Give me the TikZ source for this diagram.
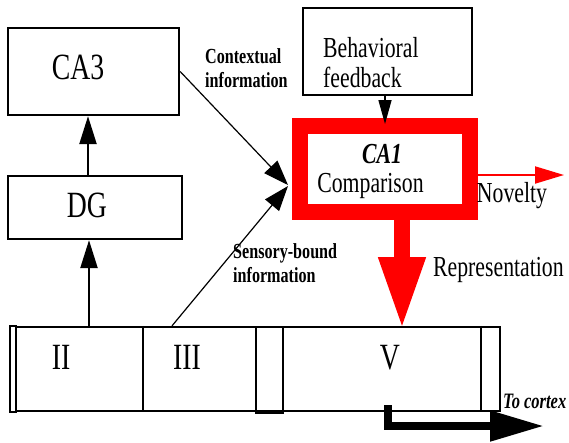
\documentclass[tikz,border=0pt]{standalone}
\usepackage{fontspec}
\setmainfont{Liberation Serif}[FakeStretch=0.75]
\usetikzlibrary{arrows.meta}
\newcommand\myfs[1]{\fontsize{#1}{#1}\selectfont}
\begin{document}
\begin{tikzpicture}[x=1pt,y=-1pt,
  box/.style={draw,line width=2.3pt,rectangle,inner sep=0pt},
  txt/.style={inner sep=0pt,anchor=base},
  big/.style={txt,font=\myfs{37}},
  mid/.style={txt,font=\myfs{29}},
  lbl/.style={inner sep=0pt,anchor=base west,align=left,font=\fontsize{21.5}{23.5}\selectfont\bfseries},
  thinarrow/.style={line width=1.2pt,-{Triangle[length=25pt,width=18pt]}},
  vertarrow/.style={line width=2.3pt,-{Triangle[length=28pt,width=17pt]}},
  redbig/.style={draw=red,line width=16pt,-{Triangle[length=73pt,width=43pt]}},
]
\useasboundingbox (0,0) rectangle (569,442);

% boxes
\node[box,minimum width=171,minimum height=87] (ca3) at (93.5,71.5) {};
\node[big] (ca3t) at (78,79) {CA3};
\node[box,minimum width=174,minimum height=63] (dg) at (95,207.5) {};
\node[big] (dgt) at (87,217) {DG};
\node[box,minimum width=169,minimum height=87] (bf) at (387.5,51.5) {};
\node[txt,anchor=base west,align=left,font=\fontsize{29}{30}\selectfont] (bft) at (323,87) {Behavioral\\feedback};
\node[draw=red,line width=16pt,minimum width=170,minimum height=86,inner sep=0pt] (ca1) at (385,169) {};
\node[txt,font=\myfs{29}\bfseries\itshape] (ca1t) at (382,163) {CA1};
\node[mid] (cmp) at (370.5,192) {Comparison};

% layer bar
\node[box,minimum width=484,minimum height=84] (bar) at (258,369) {};
\node[box,minimum width=6,minimum height=86] (edge) at (13,369) {};
\coordinate (d1) at (143,0);
\coordinate (d2) at (481,0);
\draw[line width=2.3pt] (bar.north -| d1) -- (bar.south -| d1);
\draw[line width=2.3pt] (bar.north -| d2) -- (bar.south -| d2);
\node[box,minimum width=27,minimum height=86] (gap) at (269.5,370) {};
\node[big] (l2) at (61,369) {II};
\node[big] (l3) at (187,369) {III};
\node[big] (l5) at (390,369) {V};

% labels
\node[lbl] (ctx) at (205,87) {Contextual\\information};
\node[lbl] (sns) at (233,282) {Sensory-bound\\information};
\node[txt,font=\myfs{29}] (nov) at (512,202) {Novelty};
\node[txt,anchor=base west,font=\myfs{29}] (rep) at (433,276) {Representation};
\node[txt,anchor=base west,font=\myfs{22}\bfseries\itshape] (toc) at (503,408) {To cortex};

% connectors
\coordinate (x88) at (88,0);
\coordinate (x89) at (89,0);
\coordinate (x385) at (385,0);
\coordinate (ctip) at (288,185);
\coordinate (stip) at (288,186);
\coordinate (sstart) at (172,0);
\coordinate (bftip) at (385,124);
\coordinate (novtip) at (564,175);
\coordinate (reptip) at (402,330);
\coordinate (x402) at (402,0);
\coordinate (cstart) at (388,405);
\coordinate (ccorner) at (388,426);
\coordinate (ctip2) at (544,426);

\draw[vertarrow] (dg.north -| x88) -- (ca3.south -| x88);
\draw[vertarrow] (bar.north -| x89) -- (dg.south -| x89);
\draw[thinarrow] (ca3.east) -- (ctip);
\draw[thinarrow] (bar.north -| sstart) -- (stip);
\draw[line width=1.5pt,-{Triangle[length=24pt,width=13pt]}] (bf.south -| x385) -- (bftip);
\draw[red,line width=2pt,-{Triangle[length=29pt,width=17pt]}] (ca1.east |- novtip) -- (novtip);
\draw[redbig] (ca1.south -| x402) -- (reptip);
\draw[line width=8pt,line join=miter,-{Triangle[length=54pt,width=29pt]}] (cstart) -- (ccorner) -- (ctip2);
\end{tikzpicture}
\end{document}
